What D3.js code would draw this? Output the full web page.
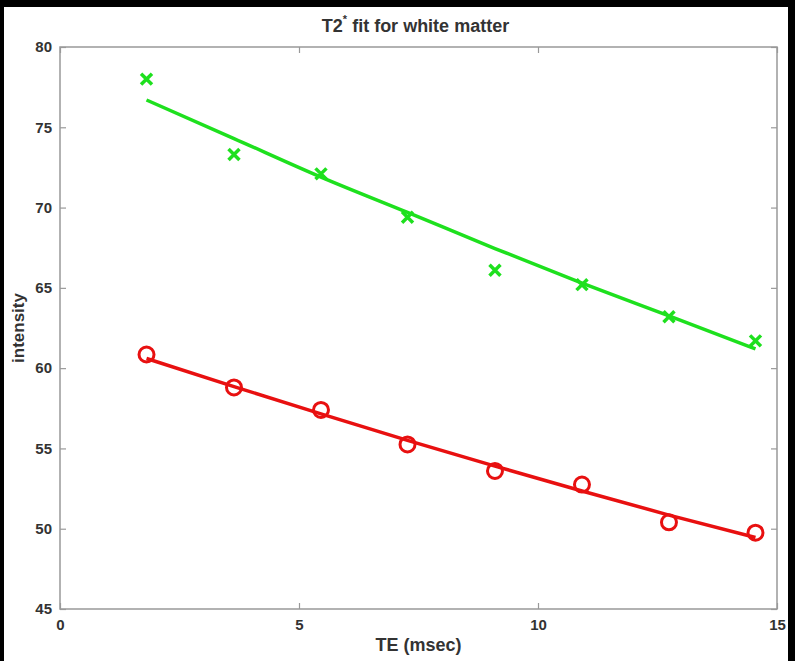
<!DOCTYPE html>
<html>
<head>
<meta charset="utf-8">
<script src="https://cdnjs.cloudflare.com/ajax/libs/d3/7.8.5/d3.min.js"></script>
<style>
  body { margin: 0; background: #000; }
  svg { display: block; }
  text { font-family: "Liberation Sans Narrow", "Liberation Sans", Arial, sans-serif; }
</style>
</head>
<body>
<svg id="chart" width="795" height="661"></svg>
<script>
// T2* decay in white matter: measured intensities and exponential fits

let te = [1.81, 3.64, 5.46, 7.27, 9.1, 10.92, 12.74, 14.55];
let greenMeasured = [78.0, 73.3, 72.1, 69.4, 66.1, 65.2, 63.2, 61.7];
let greenFit = [76.7, 74.3, 71.9, 69.7, 67.45, 65.3, 63.25, 61.2];
let redMeasured = [60.85, 58.8, 57.4, 55.25, 53.6, 52.75, 50.4, 49.75];
let redFit = [60.6, 58.85, 57.15, 55.5, 53.9, 52.35, 50.85, 49.45];

let xTicks = [0, 5, 10, 15];
let yTicks = [45, 50, 55, 60, 65, 70, 75, 80];

let svg = d3.select("#chart");

// white figure background on black page
svg.append("rect")
  .attr("x", 4).attr("y", 7)
  .attr("width", 784).attr("height", 654)
  .attr("fill", "#fff");

let plotLeft = 60, plotRight = 777, plotTop = 47, plotBottom = 609;

let x = d3.scaleLinear().domain([0, 15]).range([plotLeft, plotRight]);
let y = d3.scaleLinear().domain([45, 80]).range([plotBottom, plotTop]);

let axisColor = "#999";
let labelColor = "#333";

// box
svg.append("rect")
  .attr("x", plotLeft).attr("y", plotTop)
  .attr("width", plotRight - plotLeft).attr("height", plotBottom - plotTop)
  .attr("fill", "none")
  .attr("stroke", axisColor)
  .attr("stroke-width", 1.5);

function styleAxis(g) {
  g.select(".domain").remove();
  g.selectAll(".tick line").attr("stroke", axisColor).attr("stroke-width", 1.2);
  g.selectAll(".tick text")
    .attr("fill", labelColor)
    .style("font-size", "15px")
    .style("font-weight", "bold");
}

svg.append("g")
  .attr("transform", "translate(0," + plotBottom + ")")
  .call(d3.axisBottom(x).tickValues(xTicks).tickSizeInner(-6).tickSizeOuter(0).tickPadding(10))
  .call(styleAxis);

svg.append("g")
  .attr("transform", "translate(0," + plotTop + ")")
  .call(d3.axisTop(x).tickValues(xTicks).tickSizeInner(-6).tickSizeOuter(0).tickFormat(""))
  .call(styleAxis);

svg.append("g")
  .attr("transform", "translate(" + plotLeft + ",0)")
  .call(d3.axisLeft(y).tickValues(yTicks).tickSizeInner(-6).tickSizeOuter(0).tickPadding(8))
  .call(styleAxis);

svg.append("g")
  .attr("transform", "translate(" + plotRight + ",0)")
  .call(d3.axisRight(y).tickValues(yTicks).tickSizeInner(-6).tickSizeOuter(0).tickFormat(""))
  .call(styleAxis);

// titles
let title = svg.append("text")
  .attr("x", (plotLeft + plotRight) / 2 - 3).attr("y", 32)
  .attr("text-anchor", "middle")
  .attr("fill", labelColor)
  .style("font-size", "18px")
  .style("font-weight", "bold");
title.append("tspan").text("T2");
title.append("tspan").attr("dy", -9).style("font-size", "11px").text("*");
title.append("tspan").attr("dy", 9).text(" fit for white matter");

svg.append("text")
  .attr("x", (plotLeft + plotRight) / 2).attr("y", 651)
  .attr("text-anchor", "middle")
  .attr("fill", labelColor)
  .style("font-size", "18px")
  .style("font-weight", "bold")
  .text("TE (msec)");

svg.append("text")
  .attr("transform", "translate(24," + ((plotTop + plotBottom) / 2) + ") rotate(-90)")
  .attr("text-anchor", "middle")
  .attr("fill", labelColor)
  .style("font-size", "17px")
  .style("font-weight", "bold")
  .text("intensity");

let green = "#1ee01e";
let red = "#e81010";

let line = d3.line()
  .x((d, i) => x(te[i]))
  .y(d => y(d))
  .curve(d3.curveMonotoneX);

// fit curves
svg.append("path")
  .datum(greenFit)
  .attr("d", line)
  .attr("fill", "none")
  .attr("stroke", green)
  .attr("stroke-width", 3.5);

svg.append("path")
  .datum(redFit)
  .attr("d", line)
  .attr("fill", "none")
  .attr("stroke", red)
  .attr("stroke-width", 3.5);

// green crosses
let cross = d3.symbol().type(d3.symbolTimes).size(80);
svg.append("g").selectAll("path")
  .data(greenMeasured)
  .join("path")
  .attr("transform", (d, i) => "translate(" + x(te[i]) + "," + y(d) + ")")
  .attr("d", cross)
  .attr("fill", "none")
  .attr("stroke", green)
  .attr("stroke-width", 3.5);

// red circles
svg.append("g").selectAll("circle")
  .data(redMeasured)
  .join("circle")
  .attr("cx", (d, i) => x(te[i]))
  .attr("cy", d => y(d))
  .attr("r", 7.5)
  .attr("fill", "none")
  .attr("stroke", red)
  .attr("stroke-width", 3);
</script>
</body>
</html>
